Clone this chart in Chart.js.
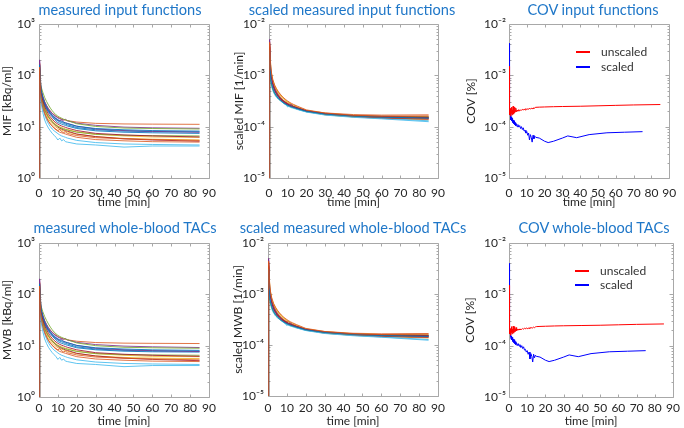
<!DOCTYPE html>
<html><head><meta charset="utf-8">
<script src="https://cdn.jsdelivr.net/npm/chart.js@4.4.1/dist/chart.umd.min.js"></script>
<style>
html,body{margin:0;padding:0;background:#fff}
body{width:684px;height:428px;position:relative;overflow:hidden;font-family:Lato,"DejaVu Sans",sans-serif}
canvas{position:absolute}
.ttl{position:absolute;color:#1f77c8;font-size:14.6px;line-height:18px;white-space:nowrap;transform:translate(-50%,-50%)}
</style></head><body>
<script>
// ---------------- data ----------------
const T = [0,0.3,1,2,3,4,5,6,7,8,9,10,11,12,13,14,15,20,30,45,60,85];
const seriesColors = ['rgba(0,114,189,0.85)','rgba(217,83,25,0.8)','rgba(237,177,32,0.85)','rgba(126,47,142,0.85)','rgba(119,172,48,0.85)','rgba(77,190,238,0.9)','rgba(162,20,47,0.85)'];
const xTicks = [0,10,20,30,40,50,60,70,80,90];
const yTicksAbs = [1,10,100,1000];
const yLabelsAbs = ['10⁰','10¹','10²','10³'];
const yTicksRel = [1e-5,1e-4,1e-3,1e-2];
const yLabelsRel = ['10⁻⁵','10⁻⁴','10⁻³','10⁻²'];

// measured input functions [kBq/ml]
const mif = [
 [1,150,48,33,26,22,19,17,15.5,14,13,12,11.6,11.2,10.9,10.6,10.3,9.2,8.3,7.8,7.6,7.4],
 [1,120,52,38,30,25.5,22,20,18.5,17,16,15.2,14.6,14.1,13.7,13.4,13.1,12.3,11.6,11.3,11.2,11.1],
 [1,175,42,27,20,16.5,14,12.5,11.4,10.5,9.8,9.2,8.8,8.6,8.3,8.1,7.9,7.1,6.4,5.9,5.7,5.5],
 [1,200,58,40,31,26,22.5,20,18,16.8,15.7,14.8,14.2,13.8,13.4,13.9,13,11.7,10.6,9.8,9.5,9.3],
 [1,135,62,47,37,31,26.5,23,20.5,18.5,17,16,15.2,14.6,14,13.6,13.2,11.4,10.1,9.4,9.2,9.0],
 [1,105,30,19,13.5,11,9.4,8.3,7.4,6.8,6.2,5.5,6.0,5.3,5.6,5.1,5.0,4.6,4.4,4.0,4.2,4.2],
 [1,165,44,29,22,18,15.5,13.8,12.4,11.3,10.5,9.8,9.3,9.0,8.7,8.4,8.2,7.2,6.4,5.8,5.5,5.2],
 [1,140,50,35,27,23,20,18,16.2,14.8,13.8,13,12.4,12,11.6,11.2,10.9,9.6,8.7,8.2,8.0,7.9],
 [1,170,40,25,18.5,15,12.8,11.4,10.4,9.5,8.9,8.4,8.8,8.0,7.7,7.9,7.4,6.7,6.1,5.8,5.6,5.4],
 [1,150,45,30,23,18.8,16,14.3,13,11.8,11,10.3,9.9,9.6,9.3,9.0,8.8,7.9,7.1,6.6,6.3,6.2],
 [1,190,52,36,28,23.5,20.5,18.4,16.6,15.2,14.2,13.4,12.8,13.5,12.2,11.9,11.6,10.2,9.0,8.4,8.1,7.8],
 [1,125,41,28,21.5,18,15.4,13.8,12.5,11.4,10.7,10.1,9.7,9.3,9.0,8.8,8.6,7.8,7.1,6.8,6.7,6.6],
 [1,100,35,23,17,13.5,11.4,10,9.0,8.3,7.8,7.3,6.9,6.6,6.4,6.2,6.0,5.4,4.9,4.6,4.5,4.4],
 [1,130,47,32,24.5,20.5,17.5,15.5,14,12.8,11.9,11.2,10.7,10.3,10,9.7,9.4,8.4,7.4,6.9,6.6,6.3],
 [1,160,54,37,29,24,21,18.8,17,15.6,14.5,13.7,13.1,12.6,12.2,11.8,11.5,10.2,9.2,8.7,8.4,8.2],
 [1,145,37,23.5,17.8,14.7,12.6,11.2,10.2,9.3,8.7,8.2,7.8,7.6,7.4,7.2,7.0,6.2,5.6,5.3,5.1,5.0]
];
// scaled measured input functions [1/min]
const mifScaled = [
 [1e-5,3.5e-3,9.5e-4,6.5e-4,5.2e-4,4.5e-4,4.0e-4,3.7e-4,3.4e-4,3.15e-4,2.95e-4,2.8e-4,2.65e-4,2.55e-4,2.45e-4,2.4e-4,2.3e-4,2.0e-4,1.75e-4,1.6e-4,1.5e-4,1.45e-4],
 [1e-5,2.5e-3,8.0e-4,6.0e-4,4.8e-4,4.2e-4,3.8e-4,3.5e-4,3.25e-4,3.05e-4,2.9e-4,2.75e-4,2.6e-4,2.5e-4,2.45e-4,2.38e-4,2.3e-4,2.05e-4,1.85e-4,1.72e-4,1.68e-4,1.7e-4],
 [1e-5,4.5e-3,1.2e-3,7.8e-4,6.2e-4,5.2e-4,4.6e-4,4.1e-4,3.7e-4,3.4e-4,3.15e-4,2.95e-4,2.8e-4,2.65e-4,2.55e-4,2.45e-4,2.35e-4,2.0e-4,1.7e-4,1.55e-4,1.45e-4,1.35e-4],
 [1e-5,5.0e-3,1.0e-3,6.8e-4,5.4e-4,4.6e-4,4.0e-4,3.6e-4,3.3e-4,3.05e-4,2.85e-4,2.7e-4,2.58e-4,2.48e-4,2.4e-4,2.34e-4,2.28e-4,2.0e-4,1.8e-4,1.65e-4,1.6e-4,1.55e-4],
 [1e-5,3.0e-3,1.1e-3,7.2e-4,5.6e-4,4.7e-4,4.1e-4,3.7e-4,3.4e-4,3.15e-4,2.95e-4,2.78e-4,2.65e-4,2.55e-4,2.45e-4,2.38e-4,2.3e-4,2.0e-4,1.78e-4,1.62e-4,1.55e-4,1.5e-4],
 [1e-5,2.8e-3,7.0e-4,5.0e-4,4.2e-4,3.7e-4,3.4e-4,3.2e-4,3.0e-4,2.9e-4,2.7e-4,2.4e-4,2.7e-4,2.35e-4,2.5e-4,2.3e-4,2.2e-4,1.95e-4,1.7e-4,1.55e-4,1.45e-4,1.3e-4],
 [1e-5,4.0e-3,9.0e-4,6.2e-4,4.9e-4,4.2e-4,3.7e-4,3.4e-4,3.15e-4,2.95e-4,2.8e-4,2.65e-4,2.55e-4,2.45e-4,2.38e-4,2.32e-4,2.25e-4,1.98e-4,1.72e-4,1.56e-4,1.48e-4,1.4e-4],
 [1e-5,3.3e-3,8.5e-4,5.8e-4,4.6e-4,4.0e-4,3.6e-4,3.3e-4,3.05e-4,2.85e-4,2.7e-4,2.58e-4,2.48e-4,2.4e-4,2.33e-4,2.27e-4,2.2e-4,1.95e-4,1.75e-4,1.6e-4,1.52e-4,1.45e-4],
 [1e-5,4.2e-3,1.1e-3,7.4e-4,5.8e-4,4.9e-4,4.3e-4,3.8e-4,3.45e-4,3.2e-4,3.0e-4,2.85e-4,2.9e-4,2.62e-4,2.5e-4,2.55e-4,2.38e-4,2.02e-4,1.76e-4,1.58e-4,1.5e-4,1.42e-4],
 [1e-5,3.8e-3,1.25e-3,8.0e-4,6.3e-4,5.4e-4,4.7e-4,4.2e-4,3.8e-4,3.5e-4,3.25e-4,3.05e-4,2.9e-4,2.75e-4,2.65e-4,2.55e-4,2.45e-4,2.08e-4,1.82e-4,1.66e-4,1.6e-4,1.56e-4],
 [1e-5,4.8e-3,1.05e-3,7.0e-4,5.5e-4,4.6e-4,4.0e-4,3.6e-4,3.3e-4,3.08e-4,2.9e-4,2.76e-4,2.64e-4,2.7e-4,2.46e-4,2.4e-4,2.33e-4,2.02e-4,1.78e-4,1.62e-4,1.55e-4,1.5e-4],
 [1e-5,2.2e-3,7.5e-4,5.4e-4,4.4e-4,3.9e-4,3.5e-4,3.25e-4,3.02e-4,2.84e-4,2.7e-4,2.58e-4,2.48e-4,2.4e-4,2.33e-4,2.27e-4,2.22e-4,1.96e-4,1.74e-4,1.6e-4,1.56e-4,1.55e-4],
 [1e-5,2.6e-3,8.8e-4,6.0e-4,4.7e-4,4.0e-4,3.55e-4,3.25e-4,3.0e-4,2.8e-4,2.65e-4,2.52e-4,2.42e-4,2.34e-4,2.28e-4,2.22e-4,2.16e-4,1.92e-4,1.68e-4,1.52e-4,1.42e-4,1.25e-4],
 [1e-5,3.6e-3,9.8e-4,6.6e-4,5.1e-4,4.4e-4,3.9e-4,3.55e-4,3.28e-4,3.07e-4,2.9e-4,2.76e-4,2.64e-4,2.54e-4,2.46e-4,2.39e-4,2.32e-4,2.03e-4,1.79e-4,1.64e-4,1.58e-4,1.52e-4],
 [1e-5,3.1e-3,7.8e-4,5.6e-4,4.5e-4,3.95e-4,3.55e-4,3.28e-4,3.06e-4,2.88e-4,2.74e-4,2.62e-4,2.52e-4,2.44e-4,2.37e-4,2.31e-4,2.25e-4,1.99e-4,1.76e-4,1.61e-4,1.53e-4,1.47e-4],
 [1e-5,4.4e-3,1.3e-3,8.4e-4,6.5e-4,5.5e-4,4.8e-4,4.3e-4,3.9e-4,3.6e-4,3.35e-4,3.15e-4,2.98e-4,2.84e-4,2.72e-4,2.62e-4,2.52e-4,2.12e-4,1.84e-4,1.66e-4,1.6e-4,1.62e-4]
];
// measured whole-blood TACs [kBq/ml]
const mwb = [
 [1,150,47,33,26,22,19,17,15.4,14,13,12,11.5,11.1,10.8,10.5,10.2,9.1,8.3,7.8,7.6,7.5],
 [1,120,51,38,30,25.5,22,20,18.4,17,16,15.1,14.5,14,13.6,13.3,13,12.2,11.5,11.2,11.1,11.0],
 [1,175,42,27,20,16.5,14,12.5,11.3,10.4,9.7,9.1,8.8,8.5,8.3,8.0,7.8,7.0,6.3,5.9,5.7,5.6],
 [1,200,57,40,31,26,22.5,20,18,16.7,15.6,14.7,14.1,13.7,13.3,13.8,12.9,11.6,10.5,9.8,9.5,9.2],
 [1,135,61,46,37,31,26.5,23,20.4,18.4,17,15.9,15.1,14.5,14,13.5,13.1,11.3,10.0,9.3,9.1,8.9],
 [1,105,30,19,13.5,11,9.3,8.2,7.3,6.7,6.1,5.4,5.9,5.2,5.5,5.0,4.9,4.5,4.3,3.9,4.1,4.1],
 [1,165,44,29,22,18,15.5,13.7,12.3,11.2,10.4,9.7,9.2,8.9,8.6,8.3,8.1,7.1,6.3,5.7,5.4,5.1],
 [1,140,50,35,27,23,20,18,16.1,14.7,13.7,12.9,12.3,11.9,11.5,11.1,10.8,9.5,8.6,8.1,7.9,7.8],
 [1,170,40,25,18.5,15,12.8,11.3,10.3,9.4,8.8,8.3,8.7,7.9,7.6,7.8,7.3,6.6,6.0,5.7,5.5,5.3],
 [1,150,45,30,23,18.8,16,14.2,12.9,11.7,10.9,10.2,9.8,9.5,9.2,8.9,8.7,7.8,7.0,6.5,6.2,6.1],
 [1,190,52,36,28,23.5,20.5,18.3,16.5,15.1,14.1,13.3,12.7,13.4,12.1,11.8,11.5,10.1,8.9,8.3,8.0,7.7],
 [1,125,41,28,21.5,18,15.4,13.7,12.4,11.3,10.6,10,9.6,9.2,8.9,8.7,8.5,7.7,7.0,6.7,6.6,6.5],
 [1,100,35,23,17,13.5,11.3,9.9,8.9,8.2,7.7,7.2,6.8,6.5,6.3,6.1,5.9,5.3,4.8,4.5,4.4,4.3],
 [1,130,47,32,24.5,20.5,17.5,15.4,13.9,12.7,11.8,11.1,10.6,10.2,9.9,9.6,9.3,8.3,7.3,6.8,6.5,6.2],
 [1,160,54,37,29,24,21,18.7,16.9,15.5,14.4,13.6,13,12.5,12.1,11.7,11.4,10.1,9.1,8.6,8.3,8.1],
 [1,145,37,23.5,17.8,14.7,12.6,11.1,10.1,9.2,8.6,8.1,7.7,7.5,7.3,7.1,6.9,6.1,5.5,5.2,5.0,4.9]
];
// scaled measured whole-blood TACs [1/min]
const mwbScaled = [
 [1e-5,3.5e-3,9.4e-4,6.4e-4,5.2e-4,4.5e-4,4.0e-4,3.7e-4,3.4e-4,3.15e-4,2.95e-4,2.8e-4,2.65e-4,2.55e-4,2.45e-4,2.4e-4,2.3e-4,2.0e-4,1.74e-4,1.6e-4,1.5e-4,1.46e-4],
 [1e-5,2.5e-3,8.0e-4,6.0e-4,4.8e-4,4.2e-4,3.8e-4,3.5e-4,3.25e-4,3.05e-4,2.9e-4,2.75e-4,2.6e-4,2.5e-4,2.45e-4,2.38e-4,2.3e-4,2.05e-4,1.84e-4,1.7e-4,1.66e-4,1.68e-4],
 [1e-5,4.5e-3,1.2e-3,7.8e-4,6.2e-4,5.2e-4,4.6e-4,4.1e-4,3.7e-4,3.4e-4,3.15e-4,2.95e-4,2.8e-4,2.65e-4,2.55e-4,2.45e-4,2.35e-4,2.0e-4,1.7e-4,1.55e-4,1.46e-4,1.37e-4],
 [1e-5,5.0e-3,1.0e-3,6.8e-4,5.4e-4,4.6e-4,4.0e-4,3.6e-4,3.3e-4,3.05e-4,2.85e-4,2.7e-4,2.58e-4,2.48e-4,2.4e-4,2.34e-4,2.28e-4,2.0e-4,1.79e-4,1.64e-4,1.58e-4,1.54e-4],
 [1e-5,3.0e-3,1.1e-3,7.2e-4,5.6e-4,4.7e-4,4.1e-4,3.7e-4,3.4e-4,3.15e-4,2.95e-4,2.78e-4,2.65e-4,2.55e-4,2.45e-4,2.38e-4,2.3e-4,2.0e-4,1.77e-4,1.62e-4,1.55e-4,1.5e-4],
 [1e-5,2.8e-3,7.0e-4,5.0e-4,4.2e-4,3.7e-4,3.4e-4,3.2e-4,3.0e-4,2.9e-4,2.7e-4,2.4e-4,2.7e-4,2.35e-4,2.5e-4,2.3e-4,2.2e-4,1.94e-4,1.7e-4,1.54e-4,1.44e-4,1.28e-4],
 [1e-5,4.0e-3,9.0e-4,6.2e-4,4.9e-4,4.2e-4,3.7e-4,3.4e-4,3.15e-4,2.95e-4,2.8e-4,2.65e-4,2.55e-4,2.45e-4,2.38e-4,2.32e-4,2.25e-4,1.98e-4,1.72e-4,1.56e-4,1.48e-4,1.41e-4],
 [1e-5,3.3e-3,8.5e-4,5.8e-4,4.6e-4,4.0e-4,3.6e-4,3.3e-4,3.05e-4,2.85e-4,2.7e-4,2.58e-4,2.48e-4,2.4e-4,2.33e-4,2.27e-4,2.2e-4,1.95e-4,1.75e-4,1.6e-4,1.52e-4,1.46e-4],
 [1e-5,4.2e-3,1.1e-3,7.4e-4,5.8e-4,4.9e-4,4.3e-4,3.8e-4,3.45e-4,3.2e-4,3.0e-4,2.85e-4,2.9e-4,2.62e-4,2.5e-4,2.55e-4,2.38e-4,2.02e-4,1.76e-4,1.58e-4,1.5e-4,1.43e-4],
 [1e-5,3.8e-3,1.25e-3,8.0e-4,6.3e-4,5.4e-4,4.7e-4,4.2e-4,3.8e-4,3.5e-4,3.25e-4,3.05e-4,2.9e-4,2.75e-4,2.65e-4,2.55e-4,2.45e-4,2.08e-4,1.82e-4,1.66e-4,1.6e-4,1.57e-4],
 [1e-5,4.8e-3,1.05e-3,7.0e-4,5.5e-4,4.6e-4,4.0e-4,3.6e-4,3.3e-4,3.08e-4,2.9e-4,2.76e-4,2.64e-4,2.7e-4,2.46e-4,2.4e-4,2.33e-4,2.02e-4,1.78e-4,1.62e-4,1.55e-4,1.51e-4],
 [1e-5,2.2e-3,7.5e-4,5.4e-4,4.4e-4,3.9e-4,3.5e-4,3.25e-4,3.02e-4,2.84e-4,2.7e-4,2.58e-4,2.48e-4,2.4e-4,2.33e-4,2.27e-4,2.22e-4,1.96e-4,1.74e-4,1.6e-4,1.56e-4,1.56e-4],
 [1e-5,2.6e-3,8.8e-4,6.0e-4,4.7e-4,4.0e-4,3.55e-4,3.25e-4,3.0e-4,2.8e-4,2.65e-4,2.52e-4,2.42e-4,2.34e-4,2.28e-4,2.22e-4,2.16e-4,1.92e-4,1.68e-4,1.52e-4,1.42e-4,1.24e-4],
 [1e-5,3.6e-3,9.8e-4,6.6e-4,5.1e-4,4.4e-4,3.9e-4,3.55e-4,3.28e-4,3.07e-4,2.9e-4,2.76e-4,2.64e-4,2.54e-4,2.46e-4,2.39e-4,2.32e-4,2.03e-4,1.79e-4,1.64e-4,1.58e-4,1.53e-4],
 [1e-5,3.1e-3,7.8e-4,5.6e-4,4.5e-4,3.95e-4,3.55e-4,3.28e-4,3.06e-4,2.88e-4,2.74e-4,2.62e-4,2.52e-4,2.44e-4,2.37e-4,2.31e-4,2.25e-4,1.99e-4,1.76e-4,1.61e-4,1.53e-4,1.48e-4],
 [1e-5,4.4e-3,1.3e-3,8.4e-4,6.5e-4,5.5e-4,4.8e-4,4.3e-4,3.9e-4,3.6e-4,3.35e-4,3.15e-4,2.98e-4,2.84e-4,2.72e-4,2.62e-4,2.52e-4,2.12e-4,1.84e-4,1.66e-4,1.6e-4,1.63e-4]
];
// COV input functions
const tCovUnscaled = [0,0.1,0.3,0.5,0.7,0.9,1.1,1.3,1.5,1.7,1.9,2.1,2.3,2.5,2.7,2.9,3.1,3.3,3.5,3.7,3.9,4.2,4.6,5,5.5,6,6.5,7,7.5,8,8.5,9,9.5,10,10.5,11,11.5,12,12.5,13,13.5,14,14.5,15,17,20,25,30,40,50,60,70,85];
const covIfUnscaled = [1.5e-3,8e-4,2.6e-4,1.7e-4,2.2e-4,1.6e-4,2.3e-4,1.8e-4,2.4e-4,1.7e-4,2.1e-4,1.9e-4,2.5e-4,1.75e-4,2.2e-4,1.85e-4,2.4e-4,1.9e-4,2.1e-4,1.95e-4,2.3e-4,1.95e-4,2.1e-4,2.0e-4,2.15e-4,2.02e-4,2.1e-4,2.08e-4,2.18e-4,2.1e-4,2.2e-4,2.12e-4,2.25e-4,2.15e-4,2.22e-4,2.18e-4,2.3e-4,2.2e-4,2.28e-4,2.22e-4,2.32e-4,2.25e-4,2.35e-4,2.38e-4,2.4e-4,2.42e-4,2.45e-4,2.47e-4,2.5e-4,2.55e-4,2.6e-4,2.65e-4,2.7e-4];
const tCovScaled = [0,0.1,0.3,0.5,0.7,0.9,1.1,1.3,1.5,1.7,1.9,2.1,2.3,2.5,2.7,2.9,3.1,3.4,3.7,4,4.5,5,5.5,6,6.5,7,7.5,8,8.5,9,9.5,10,10.5,11,11.5,12,12.5,13,13.5,14,14.5,15,17,20,22,25,30,33,38,45,55,65,75];
const covIfScaled = [4.2e-3,1.5e-3,4.5e-4,2.2e-4,1.8e-4,1.5e-4,1.35e-4,1.55e-4,1.3e-4,1.45e-4,1.2e-4,1.4e-4,1.25e-4,1.35e-4,1.15e-4,1.3e-4,1.1e-4,1.2e-4,1.05e-4,1.15e-4,1.0e-4,1.1e-4,9.8e-5,1.05e-4,9.2e-5,1.0e-4,8.8e-5,9.5e-5,8.2e-5,8.5e-5,7.5e-5,8.0e-5,6.8e-5,7.5e-5,5.5e-5,7.0e-5,6.2e-5,5.0e-5,6.8e-5,5.8e-5,6.5e-5,6.2e-5,6.0e-5,5.2e-5,4.9e-5,5.2e-5,6.0e-5,6.6e-5,6.1e-5,7.0e-5,7.6e-5,7.8e-5,8.0e-5];
// COV whole-blood TACs
const covWbUnscaled = [1.5e-3,8e-4,2.5e-4,1.7e-4,2.1e-4,1.6e-4,2.2e-4,1.8e-4,2.35e-4,1.7e-4,2.1e-4,1.85e-4,2.4e-4,1.75e-4,2.2e-4,1.85e-4,2.35e-4,1.9e-4,2.1e-4,1.95e-4,2.25e-4,1.95e-4,2.1e-4,2.0e-4,2.12e-4,2.02e-4,2.1e-4,2.07e-4,2.16e-4,2.1e-4,2.18e-4,2.12e-4,2.22e-4,2.14e-4,2.2e-4,2.17e-4,2.27e-4,2.19e-4,2.25e-4,2.21e-4,2.3e-4,2.24e-4,2.32e-4,2.35e-4,2.37e-4,2.39e-4,2.42e-4,2.44e-4,2.47e-4,2.5e-4,2.55e-4,2.6e-4,2.65e-4];
const covWbScaled = [4.0e-3,1.5e-3,4.5e-4,2.2e-4,1.8e-4,1.5e-4,1.35e-4,1.55e-4,1.3e-4,1.45e-4,1.2e-4,1.4e-4,1.25e-4,1.35e-4,1.15e-4,1.3e-4,1.1e-4,1.2e-4,1.05e-4,1.15e-4,1.0e-4,1.1e-4,9.8e-5,1.05e-4,9.2e-5,1.0e-4,8.8e-5,9.5e-5,8.2e-5,8.5e-5,7.5e-5,8.0e-5,6.8e-5,7.5e-5,5.5e-5,7.0e-5,6.2e-5,4.8e-5,6.8e-5,5.8e-5,6.5e-5,6.2e-5,6.0e-5,5.2e-5,4.9e-5,5.2e-5,6.0e-5,6.6e-5,6.1e-5,7.0e-5,7.6e-5,7.8e-5,8.0e-5];
const covLabels = ['unscaled','scaled'];
const covColors = ['#ff0000','#0000ff'];

// ---------------- helpers ----------------
const FONT = 'Lato, "DejaVu Sans", sans-serif';
const pts = (xs, ys) => xs.map((x, i) => ({x, y: ys[i]}));
const multiSets = (arr) => arr.map((ys, i) => ({
  data: pts(T, ys), borderColor: seriesColors[i % seriesColors.length], borderWidth: 1,
  pointRadius: 0, tension: 0, fill: false, order: arr.length - i
}));
const covSets = (u, s) => [
  {label: covLabels[0], data: pts(tCovUnscaled, u), borderColor: covColors[0], borderWidth: 1, pointRadius: 0, tension: 0},
  {label: covLabels[1], data: pts(tCovScaled, s), borderColor: covColors[1], borderWidth: 1, pointRadius: 0, tension: 0}
];

const framePlugin = {
  id: 'frame',
  beforeDatasetsDraw(chart) {
    const {ctx, chartArea: a, scales: {x, y}} = chart;
    ctx.save();
    ctx.strokeStyle = '#a8a8a8';
    ctx.lineWidth = 1;
    const L = Math.round(a.left) + 0.5, R = Math.round(a.right) + 0.5, Tp = Math.round(a.top) + 0.5, B = Math.round(a.bottom) + 0.5;
    ctx.beginPath();
    ctx.rect(L, Tp, R - L, B - Tp);
    xTicks.forEach(v => {
      const px = Math.round(x.getPixelForValue(v)) + 0.5;
      ctx.moveTo(px, B); ctx.lineTo(px, B - 3);
      ctx.moveTo(px, Tp); ctx.lineTo(px, Tp + 3);
    });
    const k0 = Math.round(Math.log10(y.min)), k1 = Math.round(Math.log10(y.max));
    for (let k = k0; k < k1; k++) {
      for (let m = 1; m <= 9; m++) {
        const v = m * Math.pow(10, k);
        const py = Math.round(y.getPixelForValue(v)) + 0.5;
        const len = m === 1 ? 4 : 2;
        ctx.moveTo(L, py); ctx.lineTo(L + len, py);
        ctx.moveTo(R, py); ctx.lineTo(R - len, py);
      }
    }
    ctx.stroke();
    ctx.restore();
  }
};

const legendPlugin = {
  id: 'covLegend',
  afterDraw(chart, args, opts) {
    if (!opts.show) return;
    const {ctx, chartArea: a} = chart;
    ctx.save();
    ctx.globalAlpha = 1;
    ctx.font = '12px ' + FONT;
    ctx.textBaseline = 'middle';
    ctx.textAlign = 'left';
    for (let i = 0; i < covLabels.length; i++) {
      const yy = Math.round(a.top + opts.dy + i * opts.gap);
      const xx = Math.round(a.left + opts.dx);
      ctx.fillStyle = covColors[i];
      ctx.fillRect(xx, yy - 1, 14, 2);
      ctx.fillStyle = '#333333';
      ctx.fillText(covLabels[i], xx + 25, yy);
    }
    ctx.restore();
  }
};

function makePanel(p) {
  const W = 228, H = 214;
  const c = document.createElement('canvas');
  c.width = W; c.height = H;
  c.style.left = p.left + 'px'; c.style.top = p.top + 'px';
  c.style.width = W + 'px'; c.style.height = H + 'px';
  document.body.appendChild(c);
  const t = document.createElement('div');
  t.className = 'ttl'; t.textContent = p.title;
  t.style.left = p.tx + 'px'; t.style.top = p.ty + 'px';
  document.body.appendChild(t);
  const a = p.area;
  const yT = p.yTicks, yL = p.yLabels;
  const lg = p.legend || {dx: 0, dy: 0, gap: 0};
  new Chart(c, {
    type: 'line',
    data: {datasets: p.datasets},
    plugins: [framePlugin, legendPlugin],
    options: {
      responsive: false, animation: false, devicePixelRatio: 1,
      layout: {padding: {left: 0, top: a.t, right: W - a.r, bottom: 0}},
      plugins: {legend: {display: false}, tooltip: {enabled: false}, title: {display: false},
        covLegend: {show: !!p.legend, dx: lg.dx, dy: lg.dy, gap: lg.gap}},
      scales: {
        x: {
          type: 'linear', min: 0, max: 90,
          afterBuildTicks: s => { s.ticks = xTicks.map(v => ({value: v})); },
          afterFit: s => { s.height = H - a.b; },
          grid: {display: false, drawTicks: false}, border: {display: false},
          ticks: {padding: p.xtp, autoSkip: false, maxRotation: 0, color: '#262626', font: {family: FONT, size: 12}, callback: v => String(v)},
          title: {display: true, text: 'time [min]', color: '#262626', font: {family: FONT, size: 12}, padding: {top: 0, bottom: p.xtb}}
        },
        y: {
          type: 'logarithmic', min: yT[0], max: yT[yT.length - 1],
          afterBuildTicks: s => { s.ticks = yT.map(v => ({value: v})); },
          afterFit: s => { s.width = a.l; },
          grid: {display: false, drawTicks: false}, border: {display: false},
          ticks: {padding: p.ytp, autoSkip: false, color: '#262626', font: {family: FONT, size: 12},
            callback: (v) => { const i = yT.findIndex(q => Math.abs(q - v) / q < 1e-6); return i >= 0 ? yL[i] : null; }},
          title: {display: true, text: p.ylab, color: '#262626', font: {family: FONT, size: 12}, padding: {top: p.yto, bottom: 0}}
        }
      }
    }
  });
}

const panels = [
  {left: 0, top: 0, area: {l: 39, t: 24, r: 209, b: 178}, title: 'measured input functions', tx: 120, ty: 10,
   ylab: 'MIF [kBq/ml]', yto: 0, ytp: 4, xtp: 7.8, xtb: 4.3, yTicks: yTicksAbs, yLabels: yLabelsAbs, datasets: multiSets(mif)},
  {left: 228, top: 0, area: {l: 41, t: 24, r: 210, b: 178}, title: 'scaled measured input functions', tx: 352, ty: 10,
   ylab: 'scaled MIF [1/min]', yto: 3.8, ytp: 4, xtp: 7.8, xtb: 4.3, yTicks: yTicksRel, yLabels: yLabelsRel, datasets: multiSets(mifScaled)},
  {left: 456, top: 0, area: {l: 53, t: 24, r: 224, b: 178}, title: 'COV input functions', tx: 593, ty: 10,
   ylab: 'COV [%]', yto: 7.8, ytp: 3, xtp: 7.8, xtb: 4.3, yTicks: yTicksRel, yLabels: yLabelsRel, datasets: covSets(covIfUnscaled, covIfScaled),
   legend: {dx: 67, dy: 28, gap: 15}},
  {left: 0, top: 214, area: {l: 39, t: 29, r: 209, b: 183}, title: 'measured whole-blood TACs', tx: 125, ty: 14,
   ylab: 'MWB [kBq/ml]', yto: 0, ytp: 4, xtp: 4, xtb: 0, yTicks: yTicksAbs, yLabels: yLabelsAbs, datasets: multiSets(mwb)},
  {left: 228, top: 214, area: {l: 40, t: 29, r: 210, b: 182}, title: 'scaled measured whole-blood TACs', tx: 353, ty: 14,
   ylab: 'scaled MWB [1/min]', yto: 2.8, ytp: 4, xtp: 5, xtb: 0, yTicks: yTicksRel, yLabels: yLabelsRel, datasets: multiSets(mwbScaled)},
  {left: 456, top: 214, area: {l: 53, t: 29, r: 223, b: 183}, title: 'COV whole-blood TACs', tx: 594, ty: 14,
   ylab: 'COV [%]', yto: 7.3, ytp: 3, xtp: 4, xtb: 0, yTicks: yTicksRel, yLabels: yLabelsRel, datasets: covSets(covWbUnscaled, covWbScaled),
   legend: {dx: 66, dy: 28, gap: 14}}
];
panels.forEach(p => { p.ty = p.ty + p.top; makePanel(p); });
</script>
</body></html>
